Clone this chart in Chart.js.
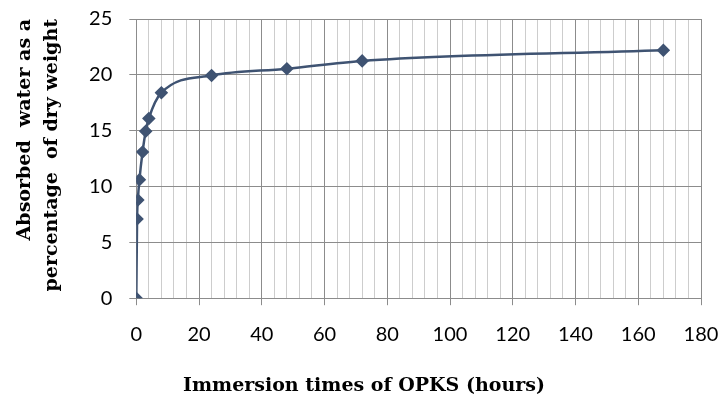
<!DOCTYPE html>
<html>
<head>
<meta charset="utf-8">
<script src="https://cdn.jsdelivr.net/npm/chart.js@4/dist/chart.umd.min.js"></script>
<style>
  html, body { margin: 0; padding: 0; background: #fff; }
  #wrap { width: 726px; height: 400px; }
</style>
</head>
<body>
<div id="wrap"><canvas id="waterChart"></canvas></div>
<script>
// Immersion time (hours) vs absorbed water (% of dry weight)
const hours = [0, 0.25, 0.5, 1, 2, 3, 4, 8, 24, 48, 72, 168];
const absorbed = [0, 7.1, 8.8, 10.6, 13.1, 14.95, 16.1, 18.4, 19.95, 20.55, 21.25, 22.2];
const yTitle = ["Absorbed  water as a", "percentage  of dry weight"];
const xTitle = "Immersion times of OPKS (hours)";

const lineColor = "#3f5372";
const gridDark = "#8c8c8c";
const gridLight = "#cdcdcd";
const tickFont = { family: "Lato", size: 20 };

new Chart(document.getElementById("waterChart"), {
  type: "scatter",
  data: {
    datasets: [
      {
        data: hours.map((h, i) => ({ x: h, y: absorbed[i] })),
        showLine: true,
        borderColor: lineColor,
        backgroundColor: lineColor,
        borderWidth: 2.5,
        cubicInterpolationMode: "monotone",
        pointStyle: "rectRot",
        pointRadius: 5,
        pointHoverRadius: 5,
      },
    ],
  },
  options: {
    responsive: true,
    maintainAspectRatio: false,
    animation: false,
    layout: { padding: { top: 19, right: 25, left: 27, bottom: 3 } },
    plugins: {
      legend: { display: false },
      tooltip: { enabled: false },
      title: {
        display: true,
        position: "bottom",
        text: xTitle,
        color: "#000",
        font: { family: "DejaVu Serif", size: 19, weight: "bold" },
        padding: { top: 11, bottom: 0 },
      },
    },
    scales: {
      x: {
        type: "linear",
        min: 0,
        max: 180,
        border: { color: gridDark },
        grid: {
          color: (ctx) => (ctx.tick && ctx.tick.value % 20 === 0 ? gridDark : gridLight),
          tickColor: (ctx) => (ctx.tick && ctx.tick.value % 20 === 0 ? gridDark : "rgba(0,0,0,0)"),
          tickLength: 7,
        },
        ticks: {
          stepSize: 4,
          autoSkip: false,
          maxRotation: 0,
          color: "#000",
          font: tickFont,
          padding: 17,
          callback: (v) => (v % 20 === 0 ? v : ""),
        },
        // end labels may overhang; the layout padding handles them
        afterFit: (scale) => {
          scale.paddingLeft = 0;
          scale.paddingRight = 0;
        },
      },
      y: {
        min: 0,
        max: 25,
        border: { color: gridDark },
        grid: { color: gridDark, tickLength: 7 },
        ticks: { stepSize: 5, color: "#000", font: tickFont, padding: 17 },
        title: {
          display: true,
          text: yTitle,
          align: "end",
          color: "#000",
          font: { family: "DejaVu Serif", size: 19, weight: "bold", lineHeight: 1.45 },
          padding: { top: -16, bottom: 6 },
        },
        afterFit: (scale) => {
          scale.paddingTop = 0;
          scale.paddingBottom = 0;
        },
      },
    },
  },
});
</script>
</body>
</html>
